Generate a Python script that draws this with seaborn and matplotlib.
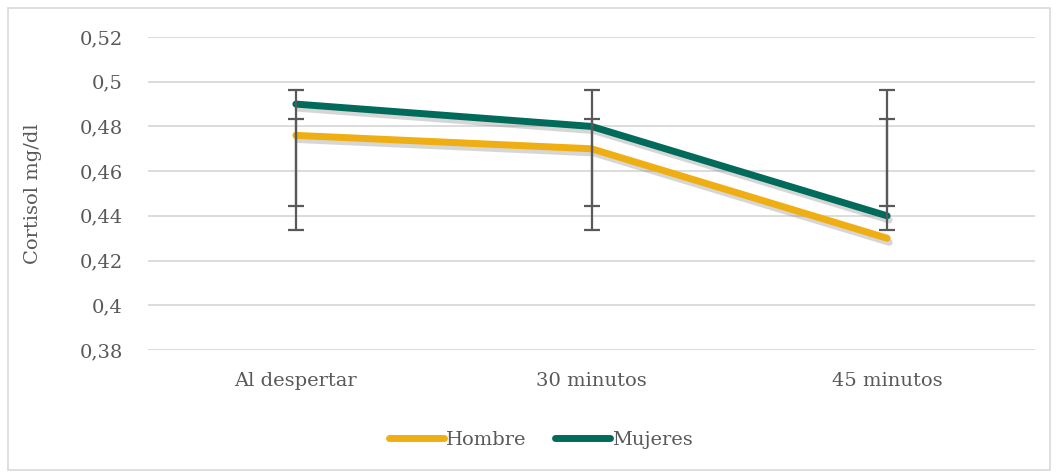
import matplotlib
matplotlib.use("Agg")
import matplotlib.pyplot as plt
import matplotlib.patheffects as pe
from matplotlib.patches import Rectangle
import numpy as np
import pandas as pd
import seaborn as sns

# Data
categories = ["Al despertar", "30 minutos", "45 minutos"]
hombre = [0.476, 0.47, 0.43]
mujeres = [0.49, 0.48, 0.44]
# error bar ends (absolute values) for each series
hombre_low = [0.4335, 0.4335, 0.4335]
hombre_high = [0.4835, 0.4835, 0.4835]
mujeres_low = [0.4445, 0.4445, 0.4445]
mujeres_high = [0.4965, 0.4965, 0.4965]
yticks = [0.38, 0.40, 0.42, 0.44, 0.46, 0.48, 0.50, 0.52]
ytick_labels = ["0,38", "0,4", "0,42", "0,44", "0,46", "0,48", "0,5", "0,52"]

sns.set_theme(style="white")
plt.rcParams["font.family"] = ["DejaVu Serif", "Liberation Serif"]

text_color = "#595959"
col_h = "#EFAE12"
col_m = "#006B5B"
fs = 14

df = pd.DataFrame({
    "pos": list(range(len(categories))) * 2,
    "valor": hombre + mujeres,
    "serie": ["Hombre"] * 3 + ["Mujeres"] * 3,
})

fig = plt.figure(figsize=(10.58, 4.75), dpi=100)
ax = fig.add_axes([148 / 1058, 1 - 350 / 475, (1035 - 148) / 1058, (350 - 37) / 475])

shadow = [pe.SimpleLineShadow(offset=(1.5, -3), shadow_color="#7a7a7a", alpha=0.3),
          pe.Normal()]

sns.lineplot(data=df, x="pos", y="valor", hue="serie",
             palette={"Hombre": col_h, "Mujeres": col_m},
             linewidth=5, ax=ax, legend=False, zorder=3,
             solid_capstyle="round", solid_joinstyle="round")
for line in ax.get_lines():
    line.set_path_effects(shadow)

# error bars span from the low end to the high end at each category
x = np.arange(len(categories))
for lo, hi in [(hombre_low, hombre_high), (mujeres_low, mujeres_high)]:
    lo = np.array(lo)
    hi = np.array(hi)
    mid = (lo + hi) / 2
    half = (hi - lo) / 2
    ax.errorbar(x, mid, yerr=half, fmt="none", ecolor=text_color,
                elinewidth=1.6, capsize=6, capthick=1.6, zorder=4)

ax.set_xlim(-0.5, 2.5)
ax.set_ylim(0.38, 0.52)
ax.set_yticks(yticks)
ax.set_yticklabels(ytick_labels)
ax.set_xticks(x)
ax.set_xticklabels(categories)
ax.tick_params(axis="both", length=0, labelsize=fs, colors=text_color)
ax.tick_params(axis="y", pad=18)
ax.tick_params(axis="x", pad=16)
ax.set_xlabel("")
ax.set_ylabel("Cortisol mg/dl", fontsize=fs, color=text_color)
ax.yaxis.set_label_coords(-0.119, 0.5)
ax.grid(axis="y", color="#D9D9D9", linewidth=1.3)
ax.set_axisbelow(True)
for s in ax.spines.values():
    s.set_visible(False)

handles = [plt.Line2D([], [], color=col_h, lw=5, solid_capstyle="round"),
           plt.Line2D([], [], color=col_m, lw=5, solid_capstyle="round")]
leg = fig.legend(handles, ["Hombre", "Mujeres"], loc="center",
                 bbox_to_anchor=(541 / 1058, 1 - 440 / 475), ncol=2,
                 frameon=False, fontsize=fs, handlelength=2.8,
                 handletextpad=0.1, columnspacing=1.5)
for t in leg.get_texts():
    t.set_color(text_color)

fig.patches.append(Rectangle((8 / 1058, 5 / 475), 1042 / 1058, 462 / 475,
                             transform=fig.transFigure, fill=False,
                             edgecolor="#D9D9D9", linewidth=1.2))

fig.savefig("out.png", dpi=100)
